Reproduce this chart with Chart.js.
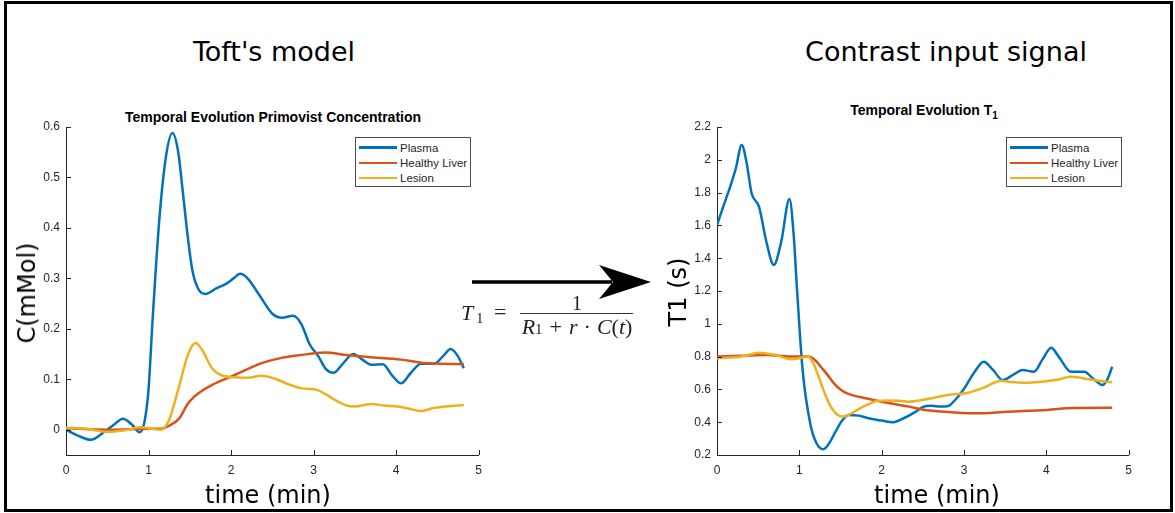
<!DOCTYPE html>
<html>
<head>
<meta charset="utf-8">
<script src="https://cdn.jsdelivr.net/npm/chart.js@4.4.1/dist/chart.umd.min.js"></script>
<style>
html, body { margin: 0; padding: 0; background: #fff; }
body { width: 1175px; height: 513px; position: relative; overflow: hidden; font-family: 'DejaVu Sans', sans-serif; }
.frame { position: absolute; left: 4px; top: 1px; width: 1163px; height: 505px; border: 3px solid #000; }
.big { position: absolute; font-size: 27px; color: #000; white-space: nowrap; transform: translate(-50%, -50%); line-height: 1; }
.axt { position: absolute; font-size: 24px; color: #000; white-space: nowrap; transform: translate(-50%, -50%); line-height: 1; }
.axt.rot { transform: translate(-50%, -50%) rotate(-90deg); }
.sub { position: absolute; font: bold 14px 'Liberation Sans', Arial, sans-serif; color: #000; white-space: nowrap; transform: translateX(-50%); line-height: 1; }
.sub sub { font-size: 10px; vertical-align: -4px; line-height: 0; }
.legend { position: absolute; width: 114px; height: 46px; border: 1px solid #4d4d4d; background: #fff; font: 11.5px 'Liberation Sans', Arial, sans-serif; color: #262626; padding-top: 2px; box-sizing: content-box; }
.legend .row { height: 15.3px; display: flex; align-items: center; }
.legend .sw { display: inline-block; width: 38px; height: 2.5px; margin: 0 3px 0 3px; }
.wrap { position: absolute; width: 485px; height: 380px; }
.f { position: absolute; font-family: 'Liberation Serif', serif; color: #222; white-space: nowrap; line-height: 1; }
.f i { font-style: italic; }
</style>
</head>
<body>
<div class="frame"></div>

<div class="big" style="left:274px; top:51px;">Toft's model</div>
<div class="big" style="left:946px; top:51px;">Contrast input signal</div>

<div class="sub" style="left:273px; top:110px;">Temporal Evolution Primovist Concentration</div>
<div class="sub" style="left:924px; top:103px;">Temporal Evolution T<sub>1</sub></div>

<div class="wrap" style="left:5px; top:110px;"><canvas id="left"></canvas></div>
<div class="wrap" style="left:655px; top:110px;"><canvas id="right"></canvas></div>

<div class="legend" id="legLeft" style="left:355px; top:137px;"></div>
<div class="legend" id="legRight" style="left:1006px; top:137px;"></div>

<div class="axt" style="left:268px; top:495px;">time (min)</div>
<div class="axt" style="left:937px; top:495px;">time (min)</div>
<div class="axt rot" style="left:27px; top:293px;">C(mMol)</div>
<div class="axt rot" style="left:678px; top:292px;">T1 (s)</div>

<svg style="position:absolute; left:0; top:0;" width="1175" height="513">
  <line x1="472" y1="282" x2="612" y2="282" stroke="#000" stroke-width="3.5"/>
  <polygon points="651,282 599,265 613,282 599,299" fill="#000"/>
</svg>

<div class="f" style="left:461px; top:302px; font-size:22px;"><i>T</i></div>
<div class="f" style="left:476px; top:311px; font-size:15px;">1</div>
<div class="f" style="left:494px; top:301px; font-size:22px;">=</div>
<div style="position:absolute; left:520px; top:313px; width:113px; height:1px; background:#333;"></div>
<div class="f" style="left:577px; top:293px; font-size:20px; transform:translateX(-50%);">1</div>
<div class="f" style="left:577px; top:316px; font-size:22px; transform:translateX(-50%);"><i>R</i><span style="font-size:15px;">1</span><span style="margin:0 7px;">+</span><i>r</i><span style="margin:0 6px;">·</span><i>C</i>(<i>t</i>)</div>

<script>
// series look (MATLAB default order)
const seriesNames = ['Plasma', 'Healthy Liver', 'Lesion'];
const seriesColors = ['#0072BD', '#D95319', '#EDB120'];

// axis ticks
const timeTicks = [0, 1, 2, 3, 4, 5];
const cTicks = [0, 0.1, 0.2, 0.3, 0.4, 0.5, 0.6];
const t1Ticks = [0.2, 0.4, 0.6, 0.8, 1, 1.2, 1.4, 1.6, 1.8, 2, 2.2];

// ---- Toft's model: concentration (mMol) vs time (min) ----
const cPlasmaT = [0, 0.15, 0.30, 0.45, 0.58, 0.69, 0.80, 0.89, 0.95, 1.00, 1.05, 1.13, 1.21, 1.29, 1.36, 1.41, 1.47, 1.53, 1.60, 1.69, 1.82, 1.95, 2.03, 2.11, 2.20, 2.35, 2.50, 2.62, 2.75, 2.85, 2.95, 3.06, 3.15, 3.24, 3.35, 3.48, 3.60, 3.70, 3.84, 3.95, 4.06, 4.18, 4.30, 4.46, 4.58, 4.66, 4.74, 4.82];
const cPlasma  = [0, -0.012, -0.02, -0.006, 0.01, 0.022, 0.01, -0.005, 0.015, 0.08, 0.22, 0.415, 0.54, 0.588, 0.55, 0.48, 0.39, 0.317, 0.28, 0.269, 0.28, 0.29, 0.30, 0.309, 0.30, 0.265, 0.23, 0.222, 0.226, 0.21, 0.17, 0.145, 0.12, 0.113, 0.13, 0.15, 0.138, 0.129, 0.13, 0.108, 0.092, 0.113, 0.131, 0.131, 0.148, 0.16, 0.148, 0.122];

const cLiverT = [0, 0.5, 1.0, 1.15, 1.25, 1.37, 1.47, 1.55, 1.61, 1.77, 2.05, 2.37, 2.60, 2.80, 3.14, 3.40, 3.66, 4.06, 4.30, 4.55, 4.82];
const cLiver  = [0.003, 0.0, 0.002, 0.002, 0.008, 0.022, 0.05, 0.065, 0.073, 0.089, 0.109, 0.132, 0.142, 0.147, 0.153, 0.148, 0.144, 0.139, 0.133, 0.131, 0.130];

const cLesionT = [0, 0.25, 0.5, 0.75, 0.9, 1.0, 1.15, 1.25, 1.37, 1.48, 1.57, 1.65, 1.77, 1.90, 2.05, 2.20, 2.37, 2.55, 2.70, 2.86, 3.04, 3.15, 3.26, 3.40, 3.50, 3.70, 3.85, 4.02, 4.15, 4.30, 4.45, 4.60, 4.82];
const cLesion  = [0.004, 0.002, -0.004, 0.0, 0.005, 0.003, 0.0, 0.02, 0.086, 0.15, 0.172, 0.158, 0.122, 0.107, 0.104, 0.103, 0.107, 0.10, 0.09, 0.082, 0.079, 0.07, 0.059, 0.048, 0.046, 0.051, 0.048, 0.046, 0.042, 0.037, 0.043, 0.046, 0.049];

// ---- Contrast input signal: T1 (s) vs time (min) ----
const t1PlasmaT = [0, 0.08, 0.16, 0.23, 0.30, 0.36, 0.42, 0.51, 0.60, 0.69, 0.78, 0.88, 0.93, 0.97, 1.04, 1.14, 1.21, 1.29, 1.36, 1.44, 1.52, 1.60, 1.72, 1.84, 2.00, 2.13, 2.25, 2.40, 2.51, 2.60, 2.72, 2.81, 2.90, 2.99, 3.12, 3.24, 3.35, 3.47, 3.60, 3.71, 3.85, 3.95, 4.06, 4.15, 4.30, 4.46, 4.57, 4.68, 4.74, 4.80];
const t1Plasma  = [1.602, 1.72, 1.836, 1.95, 2.09, 1.98, 1.796, 1.714, 1.50, 1.359, 1.50, 1.761, 1.55, 1.226, 0.718, 0.373, 0.27, 0.235, 0.27, 0.342, 0.41, 0.444, 0.44, 0.424, 0.41, 0.399, 0.42, 0.46, 0.495, 0.50, 0.495, 0.499, 0.54, 0.596, 0.70, 0.769, 0.72, 0.657, 0.69, 0.718, 0.708, 0.78, 0.854, 0.80, 0.708, 0.708, 0.665, 0.627, 0.66, 0.738];

const t1LiverT = [0, 0.3, 0.6, 0.9, 1.10, 1.20, 1.26, 1.34, 1.42, 1.50, 1.58, 1.82, 2.10, 2.33, 2.51, 2.73, 3.13, 3.53, 4.01, 4.33, 4.80];
const t1Liver  = [0.80, 0.805, 0.81, 0.80, 0.80, 0.775, 0.738, 0.69, 0.637, 0.60, 0.576, 0.545, 0.515, 0.495, 0.476, 0.465, 0.454, 0.464, 0.475, 0.486, 0.488];

const t1LesionT = [0, 0.30, 0.51, 0.72, 0.90, 1.00, 1.10, 1.16, 1.22, 1.29, 1.36, 1.44, 1.52, 1.60, 1.70, 1.82, 1.94, 2.08, 2.22, 2.33, 2.49, 2.65, 2.81, 3.05, 3.25, 3.45, 3.58, 3.71, 4.01, 4.15, 4.29, 4.43, 4.57, 4.80];
const t1Lesion  = [0.79, 0.80, 0.824, 0.808, 0.784, 0.79, 0.80, 0.77, 0.698, 0.60, 0.515, 0.455, 0.434, 0.445, 0.474, 0.505, 0.529, 0.532, 0.531, 0.525, 0.535, 0.55, 0.566, 0.58, 0.613, 0.653, 0.645, 0.641, 0.651, 0.66, 0.677, 0.67, 0.657, 0.643];

const pts = (xs, ys) => xs.map((x, i) => ({ x, y: ys[i] }));

// MATLAB-style inward tick marks
const innerTicks = {
  id: 'innerTicks',
  afterDatasetsDraw(chart) {
    const { ctx, chartArea: a, scales: { x, y } } = chart;
    ctx.save();
    ctx.strokeStyle = '#262626';
    ctx.lineWidth = 1;
    ctx.beginPath();
    x.ticks.forEach(t => {
      const px = Math.round(x.getPixelForValue(t.value)) + 0.5;
      ctx.moveTo(px, a.bottom); ctx.lineTo(px, a.bottom - 5);
    });
    y.ticks.forEach(t => {
      const py = Math.round(y.getPixelForValue(t.value)) + 0.5;
      ctx.moveTo(a.left, py); ctx.lineTo(a.left + 5, py);
    });
    ctx.stroke();
    ctx.restore();
  }
};

function makeChart(id, series, yMin, yMax, yTicks, yAxisW, padRight) {
  return new Chart(document.getElementById(id), {
    type: 'line',
    data: {
      datasets: series.map((s, i) => ({
        label: seriesNames[i], data: s, borderColor: seriesColors[i],
        borderWidth: 2.5, pointRadius: 0, cubicInterpolationMode: 'monotone',
        fill: false, order: 3 - i
      }))
    },
    options: {
      responsive: true, maintainAspectRatio: false, animation: false,
      layout: { padding: { top: 17, right: padRight, bottom: 5, left: 0 } },
      plugins: { legend: { display: false }, tooltip: { enabled: false } },
      scales: {
        x: {
          type: 'linear', min: 0, max: 5,
          afterBuildTicks: s => { s.ticks = timeTicks.map(v => ({ value: v })); },
          afterFit: s => { s.height = 30; },
          grid: { display: false, drawTicks: false },
          border: { display: true, color: '#262626', width: 1 },
          ticks: { color: '#262626', font: { family: 'Liberation Sans', size: 12 }, padding: 8, maxRotation: 0, autoSkip: false }
        },
        y: {
          type: 'linear', min: yMin, max: yMax,
          afterBuildTicks: s => { s.ticks = yTicks.map(v => ({ value: v })); },
          afterFit: s => { s.width = yAxisW; },
          grid: { display: false, drawTicks: false },
          border: { display: true, color: '#262626', width: 1 },
          ticks: { color: '#262626', font: { family: 'Liberation Sans', size: 12 }, padding: 6, autoSkip: false,
                   callback: v => String(+v.toFixed(1)) }
        }
      }
    },
    plugins: [innerTicks]
  });
}

makeChart('left', [pts(cPlasmaT, cPlasma), pts(cLiverT, cLiver), pts(cLesionT, cLesion)], -0.05, 0.6, cTicks, 61, 9);
makeChart('right', [pts(t1PlasmaT, t1Plasma), pts(t1LiverT, t1Liver), pts(t1LesionT, t1Lesion)], 0.2, 2.2, t1Ticks, 62, 8);

// legends (inside the axes, top right)
['legLeft', 'legRight'].forEach(id => {
  document.getElementById(id).innerHTML = seriesNames.map((n, i) =>
    `<div class="row"><span class="sw" style="background:${seriesColors[i]}"></span>${n}</div>`).join('');
});
</script>
</body>
</html>
